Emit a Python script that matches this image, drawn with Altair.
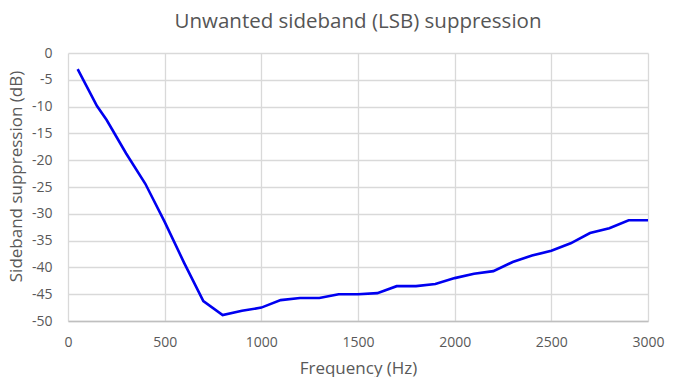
import altair as alt
import pandas as pd

freq = [50, 150, 200, 300, 400, 500, 600, 700, 800, 900, 1000, 1100, 1200, 1300,
        1400, 1500, 1600, 1700, 1800, 1900, 2000, 2100, 2200, 2300, 2400, 2500,
        2600, 2700, 2800, 2900, 3000]
supp = [-3.0, -9.9, -12.5, -18.7, -24.4, -31.5, -39.1, -46.3, -48.9, -48.1, -47.5,
        -46.1, -45.7, -45.7, -45.0, -45.0, -44.8, -43.5, -43.5, -43.1, -42.0,
        -41.2, -40.7, -39.0, -37.8, -36.9, -35.5, -33.6, -32.7, -31.2, -31.2]
x_ticks = [0, 500, 1000, 1500, 2000, 2500, 3000]
y_ticks = list(range(-50, 1, 5))

df = pd.DataFrame({"Frequency": freq, "Supp": supp})

FONT = "Open Sans"
GREY = "#595959"

chart = alt.Chart(df).mark_line(color="#0000F0", strokeWidth=2.6).encode(
    x=alt.X("Frequency:Q",
            scale=alt.Scale(domain=[0, 3000], nice=False),
            axis=alt.Axis(values=x_ticks, labelExpr="toString(datum.value)",
                          labelFlush=False,
                          title="Frequency (Hz)", labelFontSize=14, titleFontSize=17,
                          labelColor=GREY, titleColor=GREY, labelFont=FONT, titleFont=FONT,
                          titleFontWeight="normal", ticks=False, labelPadding=14,
                          titlePadding=11, domainColor="#bfbfbf", domainWidth=1.5,
                          gridColor="#d9d9d9", gridWidth=1.3)),
    y=alt.Y("Supp:Q",
            scale=alt.Scale(domain=[-50, 0], nice=False),
            axis=alt.Axis(values=y_ticks, labelExpr="toString(datum.value)",
                          labelFlush=False,
                          title="Sideband suppression (dB)", labelFontSize=14,
                          titleFontSize=17, labelColor=GREY, titleColor=GREY,
                          labelFont=FONT, titleFont=FONT, titleFontWeight="normal",
                          ticks=False, domain=False, labelPadding=16, titlePadding=6,
                          titleY=123,
                          gridColor="#d9d9d9", gridWidth=1.3)),
).properties(
    width=580, height=268,
    title=alt.Title("Unwanted sideband (LSB) suppression", fontSize=20.5, font=FONT,
                    color="#555555", fontWeight="normal", offset=14),
    padding={"left": 60, "top": 45, "right": 17, "bottom": 56},
    autosize=alt.AutoSizeParams(type="none"),
).configure_view(stroke=None)

chart.save("out.html", embed_options={"renderer": "svg", "actions": False})
